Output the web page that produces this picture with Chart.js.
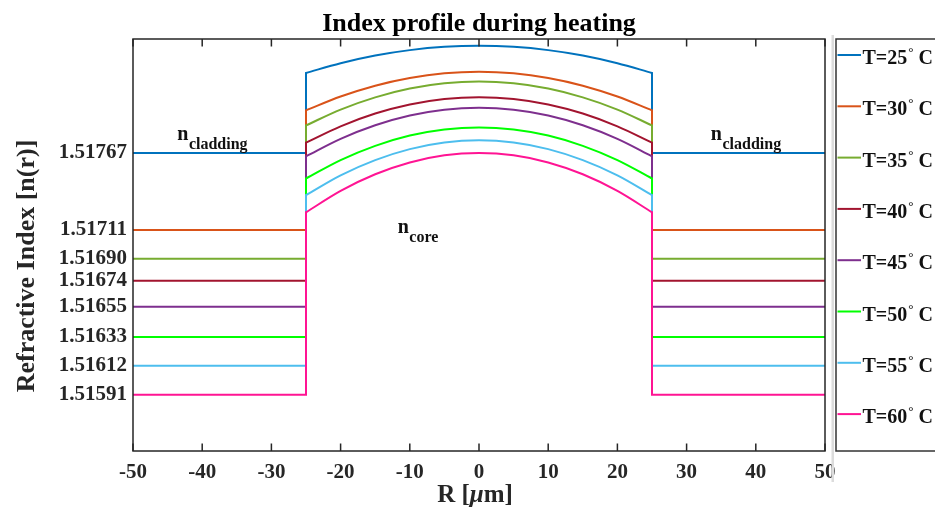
<!DOCTYPE html>
<html><head><meta charset="utf-8">
<script src="https://cdn.jsdelivr.net/npm/chart.js@4.4.1/dist/chart.umd.min.js"></script>
<style>html,body{margin:0;padding:0;background:#fff;overflow:hidden}canvas{display:block}</style>
</head><body>
<canvas id="c" width="935" height="514"></canvas>
<script>
// ---------------- data ----------------
const TEMPS = [25, 30, 35, 40, 45, 50, 55, 60];
const X_TICKS = [-50, -40, -30, -20, -10, 0, 10, 20, 30, 40, 50];
const Y_TICKS = [1.51767, 1.51711, 1.51690, 1.51674, 1.51655, 1.51633, 1.51612, 1.51591];
const CLAD = [1.51767, 1.51711, 1.51690, 1.51674, 1.51655, 1.51633, 1.51612, 1.51591];
const R_CORE = [-25, -20, -15, -10, -5, 0, 5, 10, 15, 20, 25];
const CORE_T25 = [1.518253, 1.518324, 1.518380, 1.518419, 1.518443, 1.518451, 1.518443, 1.518419, 1.518380, 1.518324, 1.518253];
const CORE_T30 = [1.517980, 1.518081, 1.518160, 1.518216, 1.518250, 1.518261, 1.518250, 1.518216, 1.518160, 1.518081, 1.517980];
const CORE_T35 = [1.517871, 1.517986, 1.518075, 1.518139, 1.518177, 1.518190, 1.518177, 1.518139, 1.518075, 1.517986, 1.517871];
const CORE_T40 = [1.517745, 1.517864, 1.517957, 1.518023, 1.518063, 1.518076, 1.518063, 1.518023, 1.517957, 1.517864, 1.517745];
const CORE_T45 = [1.517646, 1.517773, 1.517872, 1.517943, 1.517985, 1.517999, 1.517985, 1.517943, 1.517872, 1.517773, 1.517646];
const CORE_T50 = [1.517484, 1.517618, 1.517722, 1.517797, 1.517841, 1.517856, 1.517841, 1.517797, 1.517722, 1.517618, 1.517484];
const CORE_T55 = [1.517363, 1.517507, 1.517618, 1.517698, 1.517746, 1.517762, 1.517746, 1.517698, 1.517618, 1.517507, 1.517363];
const CORE_T60 = [1.517238, 1.517394, 1.517515, 1.517601, 1.517653, 1.517670, 1.517653, 1.517601, 1.517515, 1.517394, 1.517238];
const CORE = [CORE_T25, CORE_T30, CORE_T35, CORE_T40, CORE_T45, CORE_T50, CORE_T55, CORE_T60];

// ---------------- styles ----------------
const COLORS = ['#0072BD', '#D95319', '#77AC30', '#A2142F', '#7E2F8E', '#00FF00', '#4DBEEE', '#FF1493'];
const SERIF = '"Liberation Serif", "Times New Roman", serif';
const AXIS_COLOR = '#262626';

const datasets = [];
TEMPS.forEach((t, i) => {
  const label = 'T=' + t + '° C';
  const core = CORE[i];
  const rL = R_CORE[0], rR = R_CORE[R_CORE.length - 1];
  const xMin = X_TICKS[0], xMax = X_TICKS[X_TICKS.length - 1];
  datasets.push({
    label, legendItem: true,
    data: R_CORE.map((r, k) => ({ x: r, y: core[k] })),
    borderColor: COLORS[i], borderWidth: 2, pointRadius: 0, fill: false,
    cubicInterpolationMode: 'monotone', borderCapStyle: 'round',
    order: TEMPS.length - i
  });
  datasets.push({
    label, legendItem: false,
    data: [
      { x: xMin, y: CLAD[i] }, { x: rL, y: CLAD[i] }, { x: rL, y: core[0] },
      { x: 0, y: null },
      { x: rR, y: core[core.length - 1] }, { x: rR, y: CLAD[i] }, { x: xMax, y: CLAD[i] }
    ],
    borderColor: COLORS[i], borderWidth: 2, pointRadius: 0, fill: false, tension: 0,
    borderCapStyle: 'round', spanGaps: false,
    order: TEMPS.length - i
  });
});

const ANNOTATIONS = [
  { main: 'n', sub: 'cladding', x: -43.6, y: 1.517762 },
  { main: 'n', sub: 'cladding', x: 33.5, y: 1.517762 },
  { main: 'n', sub: 'core', x: -11.75, y: 1.517085 }
];

const framePlugin = {
  id: 'frame',
  afterDatasetsDraw(chart) {
    const { ctx, chartArea: a, scales: { x } } = chart;
    ctx.save();
    ctx.strokeStyle = AXIS_COLOR;
    ctx.lineWidth = 1.5;
    ctx.strokeRect(a.left, a.top, a.right - a.left, a.bottom - a.top);
    ctx.beginPath();
    X_TICKS.forEach(v => {
      const px = x.getPixelForValue(v);
      ctx.moveTo(px, a.bottom); ctx.lineTo(px, a.bottom - 7.5);
      ctx.moveTo(px, a.top); ctx.lineTo(px, a.top + 7.5);
    });
    ctx.stroke();
    ctx.restore();
  },
  afterDraw(chart) {
    const { ctx, chartArea: a, scales: { x, y } } = chart;
    ctx.save();
    ctx.fillStyle = '#111';
    ctx.textBaseline = 'alphabetic';
    ctx.textAlign = 'left';
    // annotations
    ANNOTATIONS.forEach(an => {
      const px = x.getPixelForValue(an.x), py = y.getPixelForValue(an.y);
      ctx.font = 'bold 20px ' + SERIF;
      ctx.fillText(an.main, px, py);
      const w = ctx.measureText(an.main).width;
      ctx.font = 'bold 16px ' + SERIF;
      ctx.fillText(an.sub, px + w + 0.5, py + 9);
    });
    // y axis title
    ctx.fillStyle = AXIS_COLOR;
    ctx.save();
    ctx.translate(34, 266);
    ctx.rotate(-Math.PI / 2);
    ctx.textAlign = 'center';
    ctx.font = 'bold 26px ' + SERIF;
    ctx.fillText('Refractive Index [n(r)]', 0, 0);
    ctx.restore();
    // x axis title  R [μm]
    const parts = [['R [', 'bold 25px '], ['\u03BC', 'italic bold 25px '], ['m]', 'bold 25px ']];
    let tw = 0;
    parts.forEach(p => { ctx.font = p[1] + SERIF; tw += ctx.measureText(p[0]).width; });
    let cx = 475 - tw / 2;
    parts.forEach(p => { ctx.font = p[1] + SERIF; ctx.fillText(p[0], cx, 502); cx += ctx.measureText(p[0]).width; });
    // legend
    ctx.fillStyle = '#dcdcdc';
    ctx.fillRect(831.5, 35, 2.5, 447);
    ctx.strokeStyle = '#333';
    ctx.lineWidth = 1.5;
    ctx.strokeRect(836, a.top, 140, a.bottom - a.top);
    const items = chart.data.datasets.filter(d => d.legendItem);
    items.forEach((d, i) => {
      const ly = 55 + i * 51.3;
      ctx.strokeStyle = d.borderColor;
      ctx.lineWidth = 2;
      ctx.beginPath(); ctx.moveTo(837.5, ly); ctx.lineTo(861, ly); ctx.stroke();
      const [pre, post] = d.label.split('°');
      ctx.fillStyle = '#111';
      ctx.font = 'bold 20px ' + SERIF;
      let tx = 862.5;
      const base = ly + 9;
      ctx.fillText(pre, tx, base);
      tx += ctx.measureText(pre).width + 1;
      ctx.font = 'bold 13px ' + SERIF;
      ctx.fillText('°', tx, base - 8);
      tx += ctx.measureText('°').width;
      ctx.font = 'bold 20px ' + SERIF;
      ctx.fillText(post, tx, base);
    });
    ctx.restore();
  }
};

new Chart(document.getElementById('c'), {
  type: 'line',
  data: { datasets },
  options: {
    responsive: false, animation: false, devicePixelRatio: 1,
    layout: { padding: { left: 0, right: 110, top: 0, bottom: 0 } },
    plugins: {
      legend: { display: false },
      tooltip: { enabled: false },
      title: {
        display: true, text: 'Index profile during heating', fullSize: false,
        color: '#000', font: { family: SERIF, size: 26, weight: 'bold', lineHeight: 1 },
        padding: { top: 11.5, bottom: 1.5 }
      }
    },
    scales: {
      x: {
        type: 'linear', min: X_TICKS[0], max: X_TICKS[X_TICKS.length - 1],
        afterBuildTicks: s => { s.ticks = X_TICKS.map(v => ({ value: v })); },
        afterFit: s => { s.height = 63; },
        grid: { display: false, drawTicks: false },
        border: { display: false },
        ticks: { padding: 9, color: AXIS_COLOR, autoSkip: false, maxRotation: 0,
          font: { family: SERIF, size: 21, weight: 'bold' } }
      },
      y: {
        type: 'linear', min: 1.5155, max: 1.5185,
        afterBuildTicks: s => { s.ticks = Y_TICKS.map(v => ({ value: v })); },
        afterFit: s => { s.width = 133; },
        grid: { display: false, drawTicks: false },
        border: { display: false },
        ticks: { padding: 6, color: AXIS_COLOR, autoSkip: false,
          callback: v => Number(v).toFixed(5),
          font: { family: SERIF, size: 21, weight: 'bold' } }
      }
    }
  },
  plugins: [framePlugin]
});
</script>
</body></html>
